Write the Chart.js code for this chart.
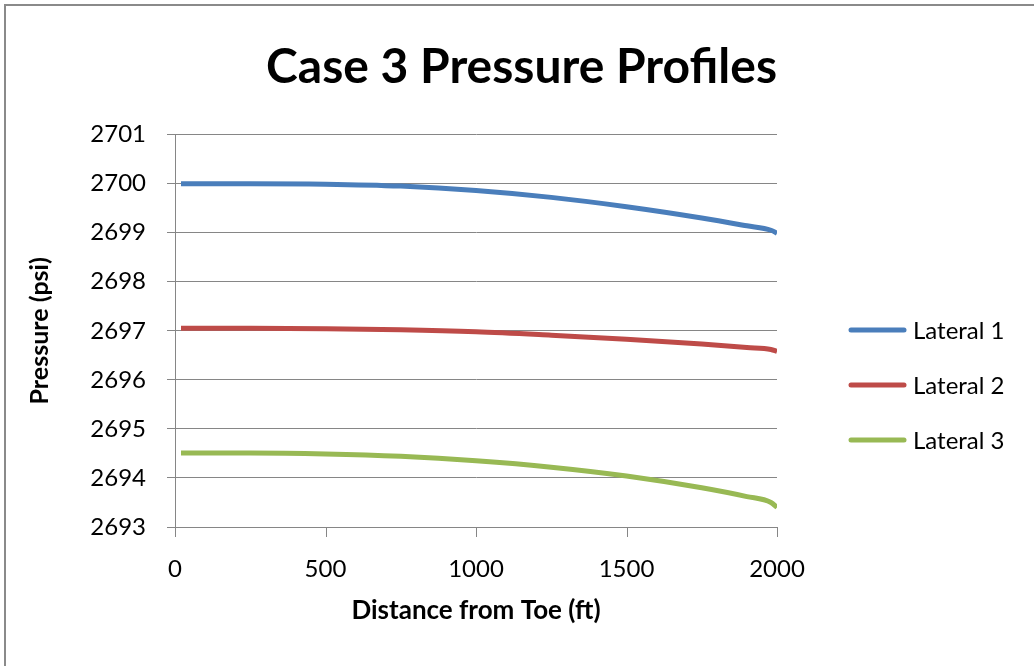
<!DOCTYPE html>
<html>
<head>
<meta charset="utf-8">
<script src="https://cdn.jsdelivr.net/npm/chart.js@4"></script>
<style>
  html, body { margin: 0; padding: 0; background: #fff; overflow: hidden; }
  #frame { position: absolute; left: 4px; top: 4px; width: 1100px; height: 700px;
           border-left: 2px solid #8a8a8a; border-top: 2px solid #8a8a8a; }
  #wrap { position: absolute; left: 0; top: 0; width: 1034px; height: 666px; }
</style>
</head>
<body>
<div id="frame"></div>
<div id="wrap"><canvas id="chart"></canvas></div>
<script>
// datos
const distancia = [20, 250, 500, 750, 1000, 1250, 1500, 1750, 1900, 1980, 2000];
const lateral1 = [2700.00, 2700.00, 2699.99, 2699.95, 2699.86, 2699.72, 2699.53, 2699.30, 2699.14, 2699.05, 2698.99];
const lateral2 = [2697.05, 2697.05, 2697.04, 2697.02, 2696.98, 2696.91, 2696.83, 2696.73, 2696.66, 2696.62, 2696.58];
const lateral3 = [2694.51, 2694.51, 2694.49, 2694.44, 2694.35, 2694.22, 2694.04, 2693.80, 2693.62, 2693.50, 2693.40];
const nombres = ['Lateral 1', 'Lateral 2', 'Lateral 3'];
const colores = ['#4a7ebb', '#be4b48', '#98b954'];

const fuente = 'Lato, "Open Sans", sans-serif';
Chart.defaults.font.family = fuente;
Chart.defaults.color = '#000';

function serie(nombre, valores, color) {
    return {
        label: nombre,
        data: distancia.map((x, i) => ({ x: x, y: valores[i] })),
        borderColor: color,
        backgroundColor: color,
        borderWidth: 5,
        pointRadius: 0,
        cubicInterpolationMode: 'monotone',
        fill: false
    };
}

// leyenda a la derecha, dibujada a mano para clavar la posición
const leyenda = {
    id: 'leyenda',
    afterDraw(chart) {
        const ctx = chart.ctx;
        ctx.save();
        ctx.font = '24px ' + fuente;
        ctx.textBaseline = 'middle';
        ctx.lineCap = 'round';
        ctx.lineWidth = 5;
        chart.data.datasets.forEach((ds, i) => {
            const y = 330 + i * 55;
            ctx.strokeStyle = ds.borderColor;
            ctx.beginPath();
            ctx.moveTo(851, y);
            ctx.lineTo(904, y);
            ctx.stroke();
            ctx.fillStyle = '#000';
            ctx.fillText(ds.label, 913, y + 1);
        });
        ctx.restore();
    }
};

// marcas de graduación del eje x hacia abajo
const marcasX = {
    id: 'marcasX',
    afterDraw(chart) {
        const x = chart.scales.x, ctx = chart.ctx, area = chart.chartArea;
        ctx.save();
        ctx.strokeStyle = '#868686';
        ctx.lineWidth = 1;
        x.ticks.forEach(t => {
            const px = Math.round(x.getPixelForValue(t.value)) + 0.5;
            ctx.beginPath();
            ctx.moveTo(px, area.bottom);
            ctx.lineTo(px, area.bottom + 10);
            ctx.stroke();
        });
        ctx.restore();
    }
};

new Chart(document.getElementById('chart'), {
    type: 'line',
    data: {
        datasets: [
            serie(nombres[0], lateral1, colores[0]),
            serie(nombres[1], lateral2, colores[1]),
            serie(nombres[2], lateral3, colores[2])
        ]
    },
    options: {
        responsive: true,
        maintainAspectRatio: false,
        animation: false,
        layout: { padding: { left: 0, right: 257, bottom: 40 } },
        plugins: {
            title: {
                display: true,
                text: 'Case 3 Pressure Profiles',
                align: 'end',
                font: { size: 48, weight: 'bold' },
                padding: { top: 39, bottom: 38 }
            },
            legend: { display: false },
            tooltip: { enabled: false }
        },
        scales: {
            x: {
                type: 'linear',
                min: 0,
                max: 2000,
                afterFit: s => { s.height = 99; },
                ticks: {
                    stepSize: 500,
                    font: { size: 24 },
                    padding: 18,
                    callback: v => String(v)
                },
                grid: { display: false, tickLength: 10 },
                border: { color: '#868686', width: 1 },
                title: {
                    display: true,
                    text: 'Distance from Toe (ft)',
                    font: { size: 26, weight: 'bold' },
                    padding: { top: 0, bottom: 0 }
                }
            },
            y: {
                min: 2693,
                max: 2701,
                afterFit: s => { s.width = 175; },
                ticks: {
                    stepSize: 1,
                    font: { size: 24 },
                    padding: 21,
                    callback: v => String(v)
                },
                grid: { color: '#868686', tickLength: 8 },
                border: { color: '#868686', width: 1 },
                title: {
                    display: true,
                    text: 'Pressure (psi)',
                    font: { size: 25, weight: 'bold' },
                    padding: { top: 25, bottom: 4 }
                }
            }
        }
    },
    plugins: [marcasX, leyenda]
});
</script>
</body>
</html>
